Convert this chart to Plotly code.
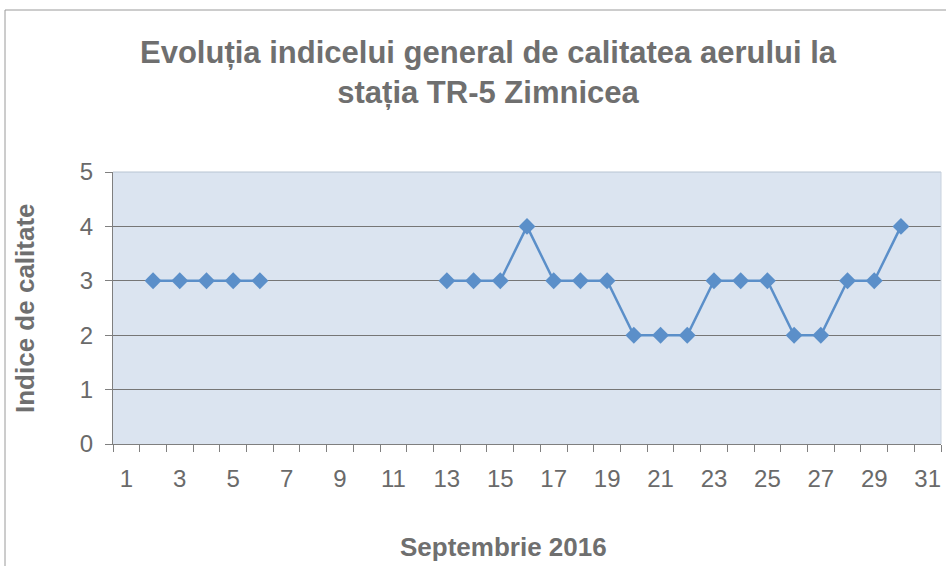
import plotly.graph_objects as go

days = list(range(1, 32))
index_values = [None, 3, 3, 3, 3, 3, None, None, None, None, None, None,
                3, 3, 3, 4, 3, 3, 3, 2, 2, 2, 3, 3, 3, 2, 2, 3, 3, 4, None]
x_label_vals = list(range(1, 32, 2))
x_labels = [str(v) for v in x_label_vals]
y_ticks = [0, 1, 2, 3, 4, 5]

title_text = "Evoluția indicelui general de calitatea aerului la<br>stația TR-5 Zimnicea"
y_title = "Indice de calitate"
x_title = "Septembrie 2016"

W, H = 946, 566
L, R, T, B = 113, 5, 172, 122
pw = W - L - R
ph = H - T - B

def px_x(p):
    return (p - L) / pw

def px_y(p):
    return (H - B - p) / ph

font_family = "Liberation Sans, Arial, sans-serif"
gray = "#6a6a6a"
line_color = "#5b8fc9"

fig = go.Figure()
fig.add_trace(go.Scatter(
    x=days, y=index_values, mode="lines+markers",
    line=dict(color=line_color, width=2.5),
    marker=dict(symbol="diamond", size=13, color=line_color),
    connectgaps=False, showlegend=False, xaxis="x", yaxis="y",
))
fig.add_trace(go.Scatter(x=[days[0]], y=[None], showlegend=False, xaxis="x2", yaxis="y", hoverinfo="skip"))

boundaries = [d - 0.5 for d in days] + [days[-1] + 0.5]

fig.update_layout(
    width=W, height=H,
    margin=dict(l=L, r=R, t=T, b=B),
    paper_bgcolor="white",
    plot_bgcolor="#dbe4f0",
    font=dict(family=font_family, color=gray),
    xaxis=dict(
        range=[0.5, 31.5], tickvals=boundaries, showticklabels=False,
        ticks="outside", ticklen=7, tickcolor="#808080", tickwidth=1,
        showgrid=False, zeroline=False,
        showline=True, linecolor="#7f7f7f", linewidth=1,
    ),
    xaxis2=dict(
        overlaying="x", side="bottom", anchor="y",
        range=[0.5, 31.5], tickvals=x_label_vals, ticktext=x_labels,
        ticks="", showgrid=False, zeroline=False, showline=False,
        tickfont=dict(size=24, color=gray), ticklabelstandoff=18,
    ),
    yaxis=dict(
        range=[0, 5], tickvals=y_ticks, ticktext=[str(v) for v in y_ticks],
        ticks="outside", ticklen=7, tickcolor="#808080",
        showgrid=True, gridcolor="#767676", gridwidth=1,
        zeroline=False, showline=True, linecolor="#7f7f7f", linewidth=1,
        tickfont=dict(size=24, color=gray), ticklabelstandoff=7,
    ),
    annotations=[
        dict(text=title_text, x=px_x(488), y=px_y(72), xref="paper", yref="paper",
             xanchor="center", yanchor="middle", showarrow=False,
             font=dict(size=31, color="#6f6f6f", family=font_family, weight="bold")),
        dict(text=y_title, x=px_x(25), y=px_y(308), xref="paper", yref="paper",
             xanchor="center", yanchor="middle", showarrow=False, textangle=-90,
             font=dict(size=26, color="#6f6f6f", family=font_family, weight="bold")),
        dict(text=x_title, x=px_x(503), y=px_y(547), xref="paper", yref="paper",
             xanchor="center", yanchor="middle", showarrow=False,
             font=dict(size=26, color="#6f6f6f", family=font_family, weight="bold")),
    ],
    shapes=[
        dict(type="line", xref="paper", yref="paper", x0=px_x(5), x1=px_x(946),
             y0=px_y(10), y1=px_y(10), line=dict(color="#9a9a9a", width=1)),
        dict(type="line", xref="paper", yref="paper", x0=px_x(5), x1=px_x(5),
             y0=px_y(10), y1=px_y(566), line=dict(color="#9a9a9a", width=1)),
        dict(type="line", xref="paper", yref="paper", x0=0, x1=1, y0=1, y1=1,
             line=dict(color="#b8c4d2", width=1)),
        dict(type="line", xref="paper", yref="paper", x0=1, x1=1, y0=0, y1=1,
             line=dict(color="#c8d2de", width=1)),
    ],
)

fig.write_html("out.html", config={"displayModeBar": False},
               post_script="document.body.style.margin='0';")
